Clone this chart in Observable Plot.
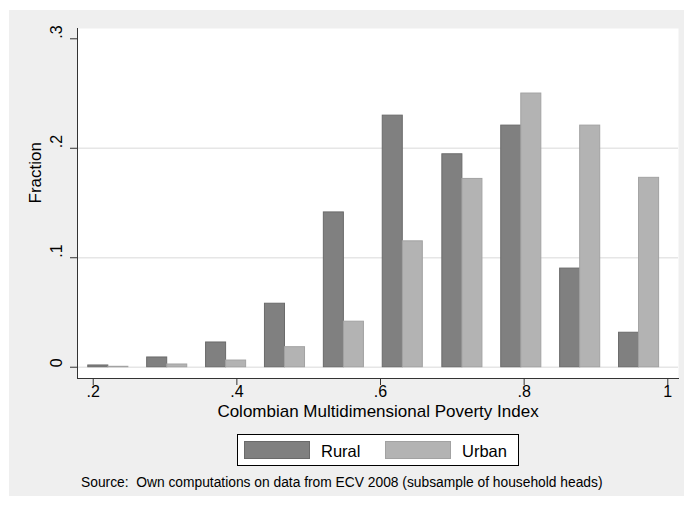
<!DOCTYPE html>
<html>
<head>
<meta charset="utf-8">
<script src="https://cdn.jsdelivr.net/npm/d3@7"></script>
<script src="https://cdn.jsdelivr.net/npm/@observablehq/plot@0.6"></script>
<style>
  html, body { margin: 0; padding: 0; background: #ffffff; }
  body { width: 684px; height: 506px; position: relative; overflow: hidden;
         font-family: "Liberation Sans", Arial, Helvetica, sans-serif; }
  #wrap { position: absolute; left: 9px; top: 10px; width: 675px; height: 486px; background: #efefef; }
  #chart { position: absolute; left: 0; top: 0; }
  #legend { position: absolute; left: 228px; top: 424px; width: 280px; height: 30px;
            border: 1px solid #000; background: #fff; }
  .sw { position: absolute; top: 6px; width: 64px; height: 16px; }
  .lt { position: absolute; top: 6px; font-size: 16.5px; line-height: 20px; color: #000; }
  #caption { position: absolute; left: 72px; top: 465px; text-align: left;
             font-size: 13.8px; line-height: 16px; white-space: pre; color: #000; }
</style>
</head>
<body>
<div id="wrap">
  <div id="chart"></div>
  <div id="legend"></div>
  <div id="caption"></div>
</div>
<script>
// ---- data ----
const series = ["Rural", "Urban"];
const binCenters = [0.221, 0.303, 0.385, 0.467, 0.549, 0.631, 0.714, 0.796, 0.878, 0.960];
const rural = [0.0016, 0.0089, 0.0226, 0.058, 0.1414, 0.2298, 0.1945, 0.2207, 0.0901, 0.0315];
const urban = [0.0004, 0.0025, 0.0061, 0.0183, 0.0416, 0.115, 0.172, 0.250, 0.2207, 0.173];
const yTicks = [0, 0.1, 0.2, 0.3];
const yTickLabels = ["0", ".1", ".2", ".3"];
const xTicks = [0.2, 0.4, 0.6, 0.8, 1];
const xTickLabels = [".2", ".4", ".6", ".8", "1"];
const xTitle = "Colombian Multidimensional Poverty Index";
const yTitle = "Fraction";
const caption = "Source:  Own computations on data from ECV 2008 (subsample of household heads)";

// ---- styles ----
const colors = {Rural: "#808080", Urban: "#b3b3b3"};
const strokes = {Rural: "#6a6a6a", Urban: "#a2a2a2"};
const barW = 0.0279;

const rows = [];
binCenters.forEach((c, i) => {
  rows.push({series: "Rural", x1: c - barW, x2: c, v: rural[i]});
  rows.push({series: "Urban", x1: c, x2: c + barW, v: urban[i]});
});

const plot = Plot.plot({
  width: 675,
  height: 415,
  marginLeft: 68,
  marginRight: 6,
  marginTop: 18,
  marginBottom: 47,
  style: {background: "transparent", fontFamily: "'Liberation Sans', Arial, Helvetica, sans-serif",
          fontSize: "15px", color: "#000"},
  x: {domain: [0.1781, 1.0149], axis: null},
  y: {domain: [-0.0103, 0.3094], axis: null},
  marks: [
    Plot.frame({fill: "white", stroke: null}),
    Plot.ruleY(yTicks.slice(0, 3), {stroke: "#e6e6e6", strokeWidth: 1.5}),
    Plot.rect(rows, {x1: "x1", x2: "x2", y1: 0, y2: "v",
      fill: d => colors[d.series], stroke: d => strokes[d.series], strokeWidth: 1}),
    Plot.frame({anchor: "left", stroke: "#333"}),
    Plot.frame({anchor: "bottom", stroke: "#333"}),
    Plot.axisY({ticks: yTicks, tickFormat: () => "", tickSize: 7, stroke: "#333", label: null}),
    Plot.axisX({ticks: xTicks, tickFormat: () => "", tickSize: 7, stroke: "#333", label: null}),
    Plot.text(yTicks, {y: d => d, text: (d, i) => yTickLabels[i], frameAnchor: "left", dx: -21,
      rotate: -90, fontSize: 16, fill: "#000"}),
    Plot.text(xTicks, {x: d => d, text: (d, i) => xTickLabels[i], frameAnchor: "bottom", dy: 18,
      fontSize: 16, fill: "#000"}),
    Plot.text([xTitle], {frameAnchor: "bottom", dy: 38, fontSize: 17, text: d => d, fill: "#000"}),
    Plot.text([yTitle], {frameAnchor: "left", dx: -42, rotate: -90, fontSize: 17, text: d => d, fill: "#000"})
  ]
});
document.getElementById("chart").appendChild(plot);

// legend
const lg = document.getElementById("legend");
const swLeft = [6, 147];
const txtLeft = [83, 224];
series.forEach((s, i) => {
  const sw = document.createElement("div");
  sw.className = "sw";
  sw.style.left = swLeft[i] + "px";
  sw.style.background = colors[s];
  sw.style.border = "1px solid " + strokes[s];
  lg.appendChild(sw);
  const t = document.createElement("div");
  t.className = "lt";
  t.style.left = txtLeft[i] + "px";
  t.textContent = s;
  lg.appendChild(t);
});
document.getElementById("caption").textContent = caption;
</script>
</body>
</html>
